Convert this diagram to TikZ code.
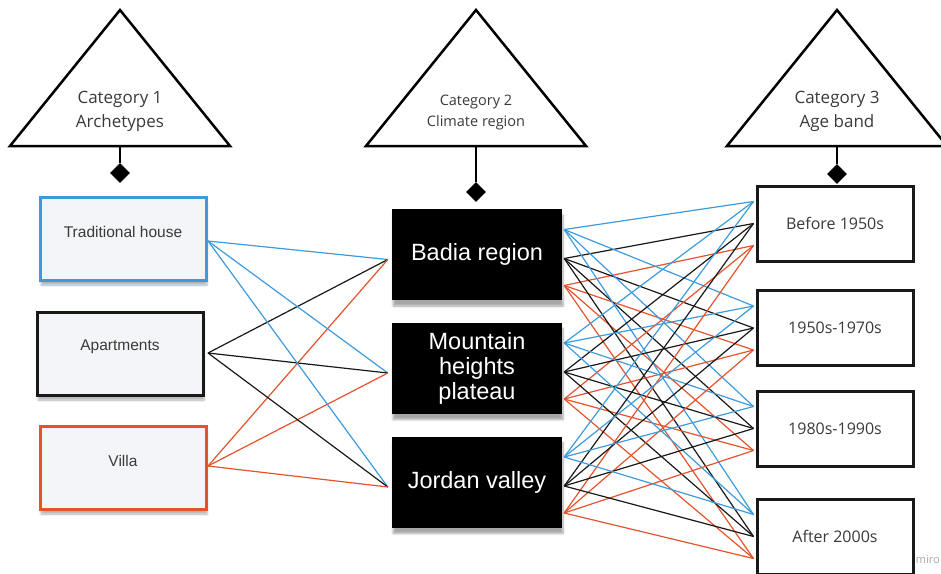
\documentclass[tikz,border=0pt]{standalone}
\usepackage{fontspec}
\setmainfont{Open Sans}
\newfontfamily\arialfont{Liberation Sans}
\usetikzlibrary{shapes.geometric,shadows.blur,backgrounds}

\definecolor{lnblue}{HTML}{3D9BDC}
\definecolor{lnred}{HTML}{E5532D}
\definecolor{boxfill}{HTML}{F4F5F9}
\definecolor{txtgray}{HTML}{3A3A3A}

\tikzset{
  cattri/.style={line width=2.5pt, line join=miter},
  cattext/.style={align=center, text=txtgray, font=\fontsize{17}{24}\selectfont},
  keydiam/.style={diamond, fill=black, inner sep=0pt, minimum width=20pt, minimum height=20pt},
  stem/.style={line width=1.5pt},
  archbox/.style={draw=#1, line width=3pt, fill=boxfill, minimum width=166pt, minimum height=83pt,
    blur shadow={shadow xshift=1pt, shadow yshift=-5pt, shadow opacity=30, shadow blur steps=6}},
  archtext/.style={font=\arialfont\fontsize{15.5}{18}\selectfont, text=txtgray, yshift=7pt},
  regionbox/.style={fill=black, text=white, align=center, minimum width=170pt, minimum height=91pt,
    font=\arialfont\fontsize{23.5}{25}\selectfont,
    blur shadow={shadow xshift=1pt, shadow yshift=-6pt, shadow opacity=35, shadow blur steps=6}},
  agebox/.style={draw=black!90, line width=3pt, fill=white, minimum width=156pt, minimum height=75pt,
    text=txtgray, font=\fontsize{16}{19}\selectfont},
  link/.style={line width=1.2pt}
}

\begin{document}
\begin{tikzpicture}[x=1pt,y=-1pt]
  \useasboundingbox (0,0) rectangle (941,573);
  \clip (0,0) rectangle (941,573);

  % category triangles
  \draw[cattri] (120,10) -- (230,146) -- (10,146) -- cycle;
  \node[cattext] (cat1) at (120,111) {Category 1\\Archetypes};
  \draw[cattri] (476,10) -- (586,146) -- (366,146) -- cycle;
  \node[cattext, font=\fontsize{14.5}{21}\selectfont] (cat2) at (476,112) {Category 2\\Climate region};
  \draw[cattri] (837,10) -- (947,146) -- (727,146) -- cycle;
  \node[cattext] (cat3) at (837,111) {Category 3\\Age band};

  \coordinate (base1) at (120,146);
  \coordinate (base2) at (476,146);
  \coordinate (base3) at (837,146);
  \node[keydiam] (d1) at (120,173) {};
  \node[keydiam] (d2) at (476,192) {};
  \node[keydiam] (d3) at (837,174) {};
  \draw[stem] (base1) -- (d1);
  \draw[stem] (base2) -- (d2);
  \draw[stem] (base3) -- (d3);

  % archetypes
  \node[archbox=lnblue, label={[archtext]center:Traditional house}] (trad) at (123,238.5) {};
  \node[archbox=black!90, label={[archtext]center:Apartments}] (apart) at (120,353.5) {};
  \node[archbox=lnred, label={[archtext]center:Villa}] (villa) at (123,467.5) {};
  \begin{scope}[on background layer]
    \foreach \b in {trad,apart,villa}
      \fill[black!7] ([shift={(-5,-8)}]\b.north west) rectangle ([shift={(0,2)}]\b.south east);
  \end{scope}

  % climate regions
  \node[regionbox] (badia) at (477,254.5) {Badia region};
  \node[regionbox] (mount) at (477,368) {Mountain\\heights\\plateau};
  \node[regionbox] (jordan) at (477,482) {Jordan valley};

  % age bands
  \node[agebox] (before) at (835,223.5) {Before 1950s};
  \node[agebox] (fifties) at (835,328) {1950s-1970s};
  \node[agebox] (eighties) at (835,428.5) {1980s-1990s};
  \node[agebox] (after) at (835,536.5) {After 2000s};

  \node[anchor=east, text=black!35, font=\fontsize{11}{13}\selectfont, inner sep=0pt] (miro) at (940,560) {miro};

  % ports
  \coordinate (trad-p) at (208,241);
  \coordinate (apart-p) at (208,353);
  \coordinate (villa-p) at (208,466);
  \foreach \m in {badia,mount,jordan} {
    \coordinate (\m-in) at ([shift={(-4,5)}]\m.west);
    \coordinate (\m-b) at ([shift={(2,-25)}]\m.east);
    \coordinate (\m-k) at ([shift={(2,4)}]\m.east);
    \coordinate (\m-o) at ([shift={(2,31)}]\m.east);
  }
  \foreach \a in {before,fifties,eighties,after} {
    \coordinate (\a-b) at ([shift={(-2,-22)}]\a.west);
    \coordinate (\a-k) at ([shift={(-2,0)}]\a.west);
    \coordinate (\a-o) at ([shift={(-2,22)}]\a.west);
  }

  % archetype -> region
  \foreach \m in {badia,mount,jordan} {
    \draw[link, lnblue] (trad-p) -- (\m-in);
    \draw[link, black!90] (apart-p) -- (\m-in);
    \draw[link, lnred] (villa-p) -- (\m-in);
  }

  % region -> age band
  \foreach \m in {badia,mount,jordan}
    \foreach \a in {before,fifties,eighties,after} {
      \draw[link, lnblue] (\m-b) -- (\a-b);
      \draw[link, black!90] (\m-k) -- (\a-k);
      \draw[link, lnred] (\m-o) -- (\a-o);
    }
\end{tikzpicture}
\end{document}
